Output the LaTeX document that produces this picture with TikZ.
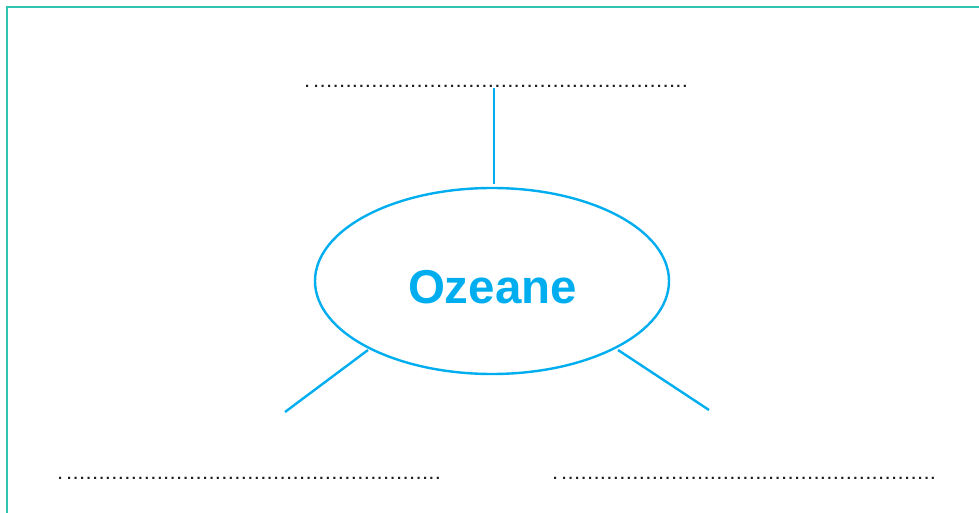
\documentclass[tikz,border=0pt]{standalone}
\usepackage{fontspec}
\setmainfont{Liberation Sans}
\usetikzlibrary{shapes.geometric}
\definecolor{frameteal}{RGB}{46,196,176}
\definecolor{oceancyan}{RGB}{0,174,239}
\definecolor{dotgray}{RGB}{30,30,30}
\newcommand\dotrun[1]{\foreach \i in {1,...,#1}{.\kern2.3pt}}
\begin{document}
\begin{tikzpicture}[x=1pt,y=-1pt,
  conn/.style={draw=oceancyan,line width=2.4pt},
  dotline/.style={anchor=base west,inner sep=0pt,outer sep=0pt,text=dotgray,font=\fontsize{15}{17}\selectfont\bfseries}]
\useasboundingbox (0,0) rectangle (979,513);
\draw[frameteal,line width=2.5pt] (7,7) rectangle (995,530);
\node[dotline] (t) at (305,88) {.\kern5pt\dotrun{58}};
\node[dotline] (bl) at (58,479) {.\kern5pt\dotrun{58}};
\node[dotline] (br) at (553,479) {.\kern5pt\dotrun{58}};
\node[ellipse,draw=oceancyan,line width=2.4pt,minimum width=354pt,minimum height=186pt,inner sep=0pt] (oz) at (492,281) {};
\node[anchor=base,inner sep=0pt,text=oceancyan,font=\fontsize{47.5}{50}\selectfont\bfseries] (lab) at (492.5,303) {Ozeane};
\coordinate (ttop) at (494,88);
\coordinate (tbot) at (494,184);
\coordinate (la) at (368,350);
\coordinate (lb) at (285,412);
\coordinate (ra) at (618,350);
\coordinate (rb) at (709,410);
\draw[conn] (ttop) -- (tbot);
\draw[conn] (la) -- (lb);
\draw[conn] (ra) -- (rb);
\end{tikzpicture}
\end{document}
